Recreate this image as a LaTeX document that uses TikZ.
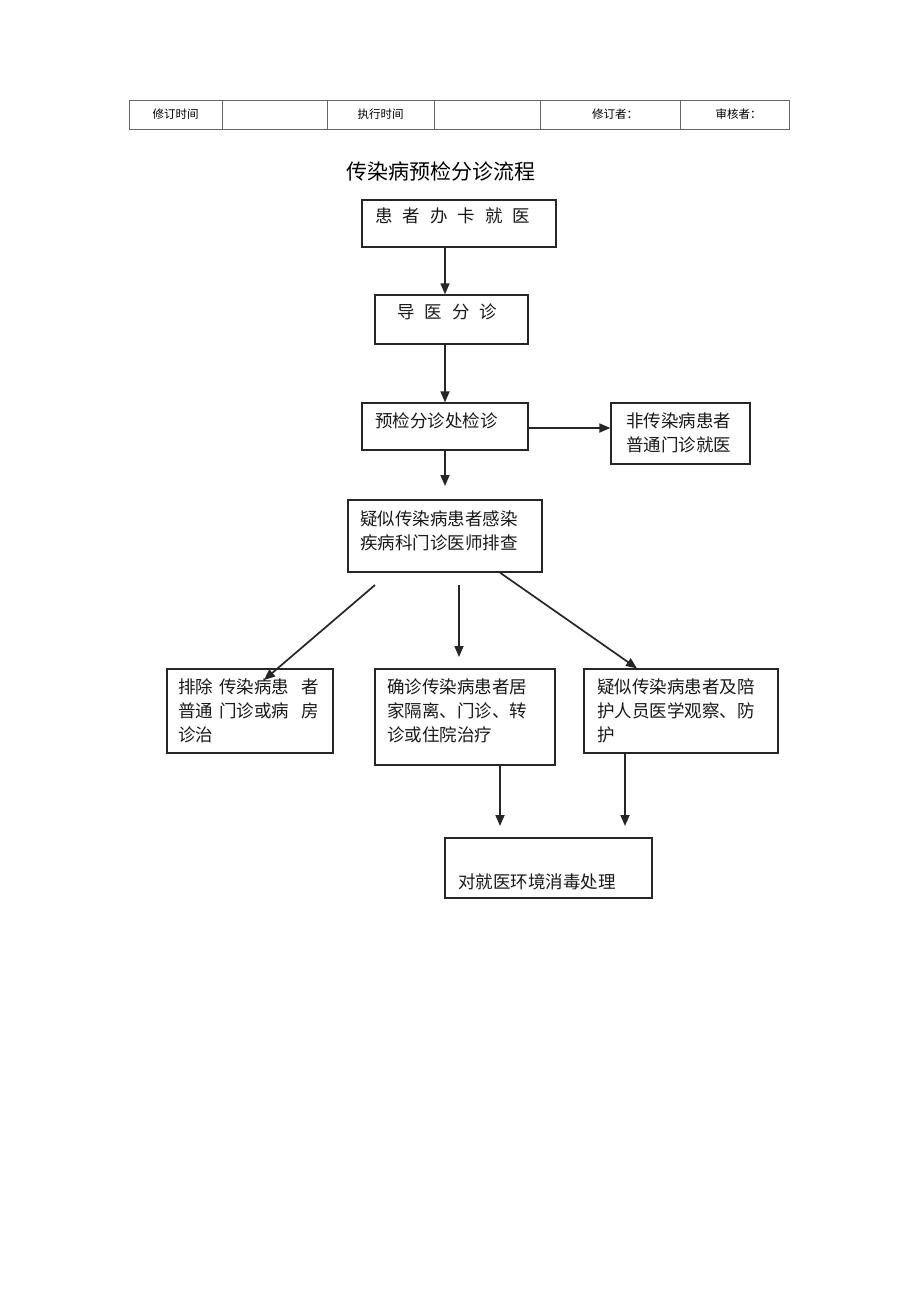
\documentclass[tikz,border=0pt]{standalone}
\usepackage{fontspec}
\setmainfont{Noto Sans CJK SC}
\usetikzlibrary{arrows.meta}
\tikzset{
  box/.style={draw=black!85, line width=1.3pt, inner sep=0pt},
  cell/.style={draw=black!60, line width=0.8pt, inner sep=0pt, minimum height=29pt, font=\fontsize{11.5}{13}\selectfont},
  txt/.style={anchor=west, inner sep=0pt, font=\fontsize{17.5}{20}\selectfont, text=black!90},
  arr/.style={draw=black!85, line width=1.7pt, -{Triangle[length=11pt,width=9pt]}},
}
\newcommand{\mybox}[5]{\node[box, minimum width={#4-#2}, minimum height={#5-#3}] (#1) at ({(#2+#4)/2},{(#3+#5)/2}) {};}
\newcommand{\mycell}[4]{\node[cell, minimum width={#3-#2}] (#1) at ({(#2+#3)/2},114.5) {#4};}
\begin{document}
\begin{tikzpicture}[x=1pt,y=-1pt]
\useasboundingbox[fill=white] (0,0) rectangle (920,1303);
% header table
\mycell{h1}{129}{222}{修订时间}
\mycell{h2}{222}{327}{}
\mycell{h3}{327}{434}{执行时间}
\mycell{h4}{434}{540}{}
\mycell{h5}{540}{680}{\hspace{10pt}修订者：}
\mycell{h6}{680}{789}{\hspace{8pt}审核者：}
% title
\node[inner sep=0pt, font=\fontsize{21}{24}\selectfont] (title) at (441,171) {传染病预检分诊流程};
% boxes
\mybox{b1}{362}{200}{556}{247}
\mybox{b2}{375}{295}{528}{344}
\mybox{b3}{362}{403}{528}{450}
\mybox{b4}{611}{403}{750}{464}
\mybox{b5}{348}{500}{542}{572}
\mybox{b6}{167}{669}{333}{753}
\mybox{b7}{375}{669}{555}{765}
\mybox{b8}{584}{669}{778}{753}
\mybox{b9}{445}{838}{652}{898}
% texts
\node[txt] (t1) at (375,216) {患\hspace{10pt}者\hspace{10pt}办\hspace{10pt}卡\hspace{10pt}就\hspace{10pt}医};
\node[txt] (t2) at (397,312) {导\hspace{10pt}医\hspace{10pt}分\hspace{10pt}诊};
\node[txt] (t3) at (375,421) {预检分诊处检诊};
\node[txt] (t4a) at (626,421) {非传染病患者};
\node[txt] (t4b) at (626,445) {普通门诊就医};
\node[txt] (t5a) at (360,519) {疑似传染病患者感染};
\node[txt] (t5b) at (360,543) {疾病科门诊医师排查};
\node[txt] (t6a) at (178,687) {排除\hspace{6pt}传染病患\hspace{12pt}者};
\node[txt] (t6b) at (178,711) {普通\hspace{6pt}门诊或病\hspace{12pt}房};
\node[txt] (t6c) at (178,735) {诊治};
\node[txt] (t7a) at (387,687) {确诊传染病患者居};
\node[txt] (t7b) at (387,711) {家隔离、门诊、转};
\node[txt] (t7c) at (387,735) {诊或住院治疗};
\node[txt] (t8a) at (597,687) {疑似传染病患者及陪};
\node[txt] (t8b) at (597,711) {护人员医学观察、防};
\node[txt] (t8c) at (597,735) {护};
\node[txt] (t9) at (458,882) {对就医环境消毒处理};
% coordinates
\coordinate (cx) at (445,0);
\coordinate (e3) at (445,486);
\coordinate (sL) at (375,585);
\coordinate (eL) at (264,680);
\coordinate (sM) at (459,585);
\coordinate (eM) at (459,657);
\coordinate (cR1) at (500,0);
\coordinate (cR2) at (637,0);
\coordinate (e7) at (500,826);
\coordinate (cB) at (625,0);
\coordinate (e8) at (625,826);
\coordinate (cy) at (0,428);
% arrows
\draw[arr] (b1.south -| cx) -- (b2.north -| cx);
\draw[arr] (b2.south -| cx) -- (b3.north -| cx);
\draw[arr] (b3.east |- cy) -- (b4.west |- cy);
\draw[arr] (b3.south -| cx) -- (e3);
\draw[arr] (sL) -- (eL);
\draw[arr] (sM) -- (eM);
\draw[arr] (b5.south -| cR1) -- (b8.north -| cR2);
\draw[arr] (b7.south -| cR1) -- (e7);
\draw[arr] (b8.south -| cB) -- (e8);
\end{tikzpicture}
\end{document}
